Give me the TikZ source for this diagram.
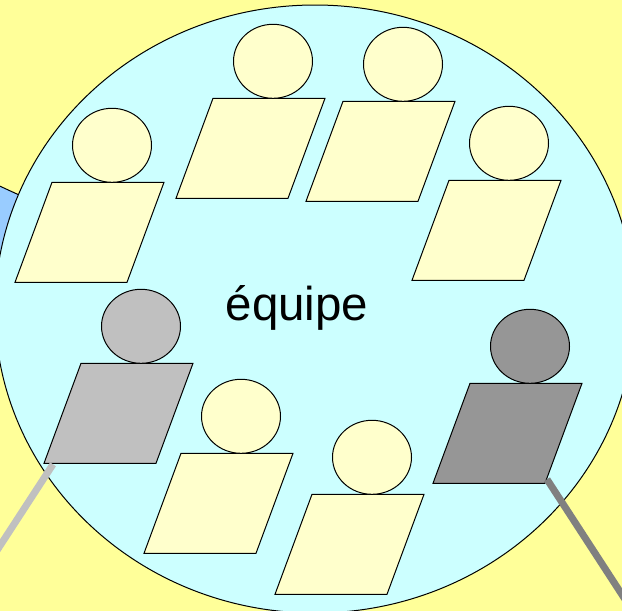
\documentclass[tikz,border=0pt]{standalone}
\usepackage{fontspec}
\usetikzlibrary{calc}
\setmainfont{Liberation Sans}
\definecolor{bgy}{HTML}{FFFF99}
\definecolor{teamc}{HTML}{CCFFFF}
\definecolor{bluec}{HTML}{99CCFF}
\definecolor{persc}{HTML}{FFFFCC}
\definecolor{greyA}{HTML}{C0C0C0}
\definecolor{greyB}{HTML}{969696}
\definecolor{greyL}{HTML}{808080}
\tikzset{
  outline/.style={draw=black,line width=1pt},
  link/.style={line width=7pt,line cap=butt},
}
% name, x and y of the body's bottom-left corner, fill
\newcommand{\personfig}[4]{%
  \path[outline,fill=#4] (#2+37,#3-100) coordinate (#1tl) -- ++(112,0) coordinate (#1tr)
     -- (#2+112,#3) coordinate (#1br) -- (#2,#3) coordinate (#1bl) -- cycle;
  \path[outline,fill=#4] (#2+97,#3-137) ellipse [x radius=39.5,y radius=37];
}
\begin{document}
\begin{tikzpicture}[x=1pt,y=-1pt]
\useasboundingbox (0,0) rectangle (622,611);
\clip (0,0) rectangle (622,611);
\fill[bgy] (0,0) rectangle (622,611);
\path[outline,fill=bluec] (-20,177) -- (30,200) -- (30,300) -- (-20,300) -- cycle;
\path[outline,fill=teamc] (315,309) ellipse [x radius=320,y radius=304];
\personfig{a}{15}{282.3}{persc}
\personfig{b}{176}{198.3}{persc}
\personfig{c}{306}{201.3}{persc}
\personfig{d}{412}{280.3}{persc}
\personfig{e}{44}{463.3}{greyA}
\personfig{f}{144}{553.3}{persc}
\personfig{g}{275}{594.3}{persc}
\personfig{h}{433}{483.3}{greyB}
\coordinate (leftend) at (-6,555);
\coordinate (rightend) at (630,607);
\draw[link,greyA] ($(ebl)+(9,1)$) -- (leftend);
\draw[link,greyL] ($(hbr)+(2,-4)$) -- (rightend);
\node (label) at (297,308) {\fontsize{47.5}{50}\selectfont équipe};
\end{tikzpicture}
\end{document}
